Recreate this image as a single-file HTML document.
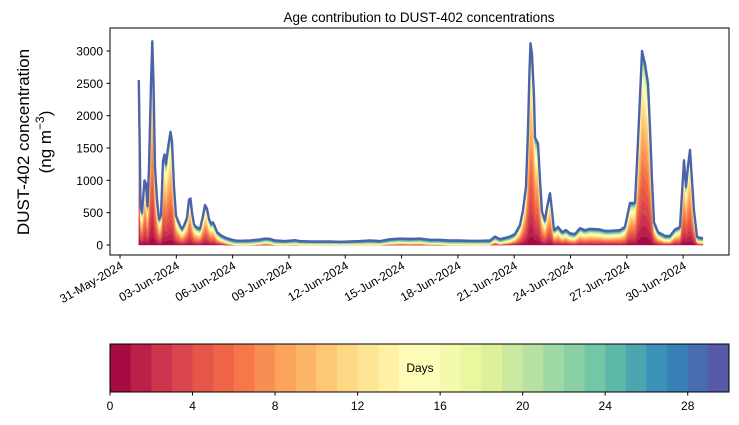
<!DOCTYPE html>
<html><head><meta charset="utf-8"><style>
body{margin:0;background:#fff}
svg{display:block;font-family:"Liberation Sans","DejaVu Sans",sans-serif}
</style></head><body>
<svg id="c" width="739" height="425">
<rect width="739" height="425" fill="#fff"/>
<text x="419" y="22" text-anchor="middle" font-size="13.5">Age contribution to DUST-402 concentrations</text>
<g>
<text transform="translate(29,142) rotate(-90)" text-anchor="middle" font-size="17">DUST-402 concentration</text>
<text transform="translate(51,142) rotate(-90)" text-anchor="middle" font-size="17">(ng m<tspan baseline-shift="super" font-size="12">−3</tspan>)</text>
</g>
<g id="plot"></g>
<rect x="110" y="28" width="619" height="227" fill="none" stroke="#000" stroke-width="1"/>
<g id="yax"></g>
<g id="xax"></g>
<g id="cbar"></g>
<text x="420" y="372" text-anchor="middle" font-size="12">Days</text>
</svg>
<script>
const xPix = [138.8,140.5,142,144.5,146,147.5,149,151,152.3,153.5,155,157,159,161,163,164.5,166,168,170.5,172,174,176,178,180,182,184,187,189,190.5,192,194,196,200,203,205,207,209,211,213,214.5,217,221,226,230,235,240,250,260,265,270,275,285,295,300,310,320,330,340,350,360,370,380,390,400,410,420,430,440,450,460,470,480,490,495,500,510,515,520,523,526,528,529.5,530.5,532,534,535,538,540,542,545,547,550,552,554,558,562,566,570,575,580,585,590,600,605,610,620,625,630,635,637,640,642,645,648,650,652,654,658,665,670,675,680,682,684,686,688,690,692,694,697,700,703];
const hours = xPix.map(x => (x - 138.8) / 18.77 * 24);
const totals = [2550,600,500,1000,950,600,1200,2500,3150,2500,1200,700,400,450,1300,1400,1250,1500,1750,1600,900,450,380,300,250,300,420,700,720,500,320,280,250,450,620,560,400,330,350,300,200,150,110,90,70,65,70,85,100,95,70,60,75,60,55,55,55,50,55,60,70,60,90,100,95,100,80,80,70,70,65,65,70,130,90,130,170,310,540,900,1780,2700,3120,2950,2290,1660,1570,1000,515,380,580,800,530,230,280,200,230,180,170,260,230,250,240,220,220,230,280,650,650,1270,2290,3000,2800,2500,1800,1000,350,200,140,140,240,280,800,1310,900,1220,1470,1000,530,130,110,110];
const yTicks = [0,500,1000,1500,2000,2500,3000];
const xTickLabels = ["31-May-2024","03-Jun-2024","06-Jun-2024","09-Jun-2024","12-Jun-2024","15-Jun-2024","18-Jun-2024","21-Jun-2024","24-Jun-2024","27-Jun-2024","30-Jun-2024"];
const xTickHours = [-24,48,120,192,264,336,408,480,552,624,696];
const cbTicks = [0,4,8,12,16,20,24,28];
const nAges = 30;
const background = 70;

const NS = "http://www.w3.org/2000/svg";
const X0 = 138.8, PXH = 18.77/24;
const xs = h => X0 + h * PXH;
const ys = v => 245 - v * 194 / 3000;
function el(tag, attrs, parent){const e=document.createElementNS(NS,tag);for(const k in attrs)e.setAttribute(k,attrs[k]);parent.appendChild(e);return e;}

const stops=[[158,1,66],[213,62,79],[244,109,67],[253,174,97],[254,224,139],[255,255,191],[230,245,152],[171,221,164],[102,194,165],[50,136,189],[94,79,162]];
function spectral(t){const p=t*10,i=Math.min(9,Math.floor(p)),f=p-i;const a=stops[i],b=stops[i+1];return `rgb(${a.map((v,j)=>Math.round(v+(b[j]-v)*f)).join(",")})`;}
const colors=[];for(let k=0;k<nAges;k++)colors.push(spectral((k+0.5)/nAges));

const wEx=[4,5,5.5,6,6,6,6,6,5.5,5,4.5,4,3.6,3.2,2.8,2.4,2,1.6,1.3,1,0.8,0.6,0.5,0.4,0.35,0.3,0.3,0.3,0.3,0.3];
const wBg=[0,0,0,0,0,0,0,0,0.3,0.5,0.7,0.9,1.1,1.3,1.5,1.7,1.9,2,2.1,2.2,2.3,2.4,2.5,2.6,2.7,2.8,2.9,3,3.1,3.2];
const sEx=wEx.reduce((a,b)=>a+b),sBg=wBg.reduce((a,b)=>a+b);

const plot=document.getElementById("plot");
let cum=totals.map(()=>0);
for(let k=0;k<nAges;k++){
  const lower=cum.slice();
  cum=totals.map((v,i)=>{const bg=Math.min(v,background),ex=v-bg;return cum[i]+ex*wEx[k]/sEx+bg*wBg[k]/sBg;});
  let d="M"+hours.map((h,i)=>xs(h).toFixed(2)+","+ys(cum[i]).toFixed(2)).join("L");
  for(let i=hours.length-1;i>=0;i--)d+="L"+xs(hours[i]).toFixed(2)+","+ys(lower[i]).toFixed(2);
  const p=el("path",{d:d+"Z",fill:colors[k],stroke:colors[k],"stroke-width":"0.4"},plot);
  
  
}
const topLine=el("polyline",{points:hours.map((h,i)=>xs(h).toFixed(2)+","+ys(totals[i]).toFixed(2)).join(" "),fill:"none",stroke:"#4c63aa","stroke-width":"2.4","stroke-linejoin":"round"},plot);



const yax=document.getElementById("yax");
yTicks.forEach(v=>{const y=ys(v);
  const t=el("line",{x1:106.5,x2:110,y1:y,y2:y,stroke:"#000"},yax);
  
  
  const l=el("text",{x:103,y:y+4.5,"text-anchor":"end","font-size":"12"},yax);l.textContent=v;
  
  
});
const xax=document.getElementById("xax");
xTickHours.forEach((h,i)=>{const x=xs(h);
  const t=el("line",{x1:x,x2:x,y1:255,y2:258.5,stroke:"#000"},xax);
  
  
  const l=el("text",{"text-anchor":"end","font-size":"12",transform:`translate(${x+4},268) rotate(-30)`},xax);l.textContent=xTickLabels[i];
  
  
});
const cb=document.getElementById("cbar");
const cbx=v=>110+v*619/30;
for(let k=0;k<nAges;k++){
  const r=el("rect",{x:cbx(k),y:344,width:619/30+0.5,height:48,fill:colors[k]},cb);
  
  
}
el("rect",{x:110,y:344,width:619,height:48,fill:"none",stroke:"#000"},cb);
cbTicks.forEach(v=>{const x=cbx(v);
  const t=el("line",{x1:x,x2:x,y1:392,y2:395.5,stroke:"#000"},cb);
  
  
  const l=el("text",{x:x,y:410,"text-anchor":"middle","font-size":"12"},cb);l.textContent=v;
  
  
});
</script>
</body></html>
